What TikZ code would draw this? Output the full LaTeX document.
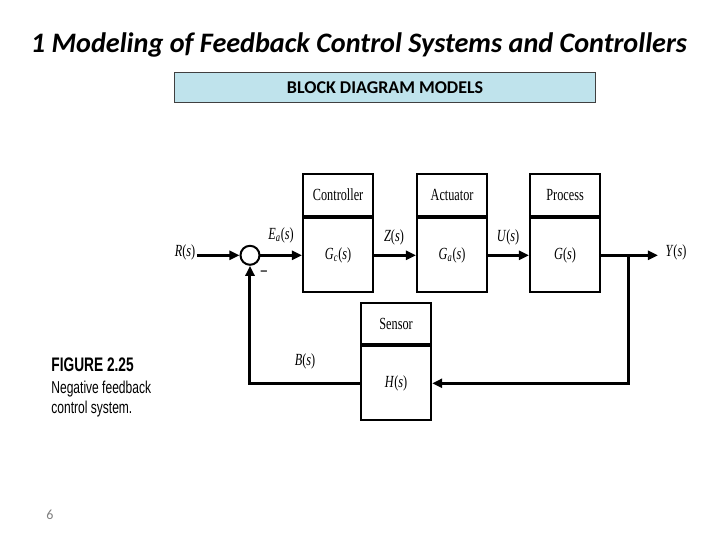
\documentclass[tikz,border=0pt]{standalone}
\usepackage{fontspec}
\usepackage{graphicx}
\setmainfont{Liberation Serif}
\newfontfamily\titlefont{Carlito}
\newfontfamily\capfont{Liberation Sans}
\usetikzlibrary{arrows.meta}
\definecolor{bannerfill}{HTML}{BFE3EC}
\definecolor{bannerline}{HTML}{404040}
\newcommand\nar[1]{\scalebox{0.72}[1]{#1}}
\newcommand\dtext[1]{\nar{\fontsize{8.5}{10}\selectfont #1}}
\newcommand\ftext[1]{\scalebox{0.7}[1]{\capfont\fontsize{8.6}{9}\selectfont #1}}
\tikzset{
  hdr/.style={draw, line width=1.1pt, minimum width=35pt, minimum height=21pt, inner sep=0pt, anchor=north west},
  bdy/.style={draw, line width=1.1pt, minimum width=35pt, minimum height=37pt, inner sep=0pt, anchor=north},
  sig/.style={line width=1.5pt, -{Triangle[length=5pt,width=4.5pt]}},
  lbl/.style={inner sep=0pt},
}
\begin{document}
\begin{tikzpicture}[x=0.5pt,y=-0.5pt]
\useasboundingbox[fill=white] (0,0) rectangle (720,540);
% title
\node[lbl] (title) at (359,45) {\titlefont\bfseries\itshape\fontsize{14.1}{16}\selectfont 1 Modeling of Feedback Control Systems and Controllers};
\node[draw=bannerline, fill=bannerfill, line width=0.6pt, minimum width=210.5pt, minimum height=15pt, inner sep=0pt, anchor=north west] (banner) at (174,72) {};
\node[lbl] (bannertext) at (banner.center) {\titlefont\bfseries\fontsize{9}{11}\selectfont BLOCK DIAGRAM MODELS};
% blocks
\node[hdr] (ctrlh) at (302,173) {\dtext{Controller}};
\node[bdy] (ctrl) at (ctrlh.south) {\dtext{\textit{G\textsubscript{c}}(\textit{s})}};
\node[hdr] (acth) at (416,173) {\dtext{Actuator}};
\node[bdy] (act) at (acth.south) {\dtext{\textit{G\textsubscript{a}}(\textit{s})}};
\node[hdr] (proch) at (529,173) {\dtext{Process}};
\node[bdy] (proc) at (proch.south) {\dtext{\textit{G}(\textit{s})}};
\node[hdr, minimum height=20.5pt] (sensh) at (360,302) {\dtext{Sensor}};
\node[bdy] (sens) at (sensh.south) {\dtext{\textit{H}(\textit{s})}};
% summing junction
\node[circle, draw, line width=1pt, minimum size=9.5pt, inner sep=0pt] (sum) at (ctrl.west -| {250,0}) {};
\coordinate (in) at (ctrl.west -| {197,0});
\coordinate (br) at (ctrl.west -| {629,0});
\coordinate (out) at (ctrl.west -| {658,0});
% signals
\draw[sig] (in) -- (sum.west);
\draw[sig] (sum.east) -- (sum.east -| ctrl.west);
\draw[sig] (ctrl.east) -- (ctrl.east -| act.west);
\draw[sig] (act.east) -- (act.east -| proc.west);
\draw[sig] (proc.east) -- (out);
\draw[sig] (br) |- (sens.east);
\draw[sig] (sens.west) -| (sum.south);
% labels
\node[lbl] (rlab) at (185,252) {\dtext{\textit{R}(\textit{s})}};
\node[lbl] (ylab) at (676,252) {\dtext{\textit{Y}(\textit{s})}};
\node[lbl] (ealab) at (281,235) {\dtext{\textit{E\textsubscript{a}}(\textit{s})}};
\node[lbl] (zlab) at (394,237) {\dtext{\textit{Z}(\textit{s})}};
\node[lbl] (ulab) at (508,237) {\dtext{\textit{U}(\textit{s})}};
\node[lbl] (blab) at (305,361) {\dtext{\textit{B}(\textit{s})}};
\node[lbl] (minus) at (264,273) {\dtext{\textbf{--}}};
% caption
\node[lbl, anchor=base west] (fig) at (51,372) {\scalebox{0.7}[1]{\capfont\bfseries\fontsize{9.8}{10}\selectfont FIGURE 2.25}};
\node[lbl, anchor=base west] (cap1) at (51,394) {\ftext{Negative feedback}};
\node[lbl, anchor=base west] (cap2) at (51,414) {\ftext{control system.}};
% page number
\node[lbl, text=gray] (pnum) at (50,515) {\titlefont\fontsize{7}{8}\selectfont 6};
\end{tikzpicture}
\end{document}
